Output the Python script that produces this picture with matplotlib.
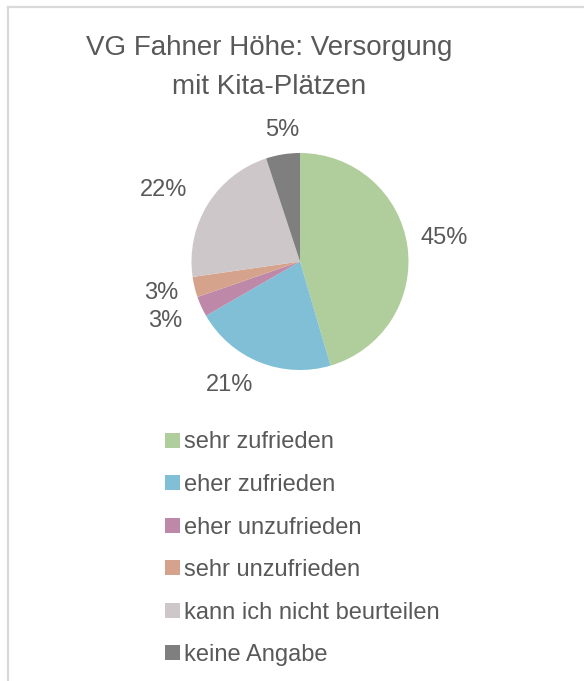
import matplotlib
matplotlib.use("Agg")
import matplotlib.pyplot as plt
from matplotlib.patches import Patch
from matplotlib.lines import Line2D
import numpy as np

plt.rcParams['font.family'] = ['Liberation Sans', 'DejaVu Sans']

# Survey answers (percent)
categories = ["sehr zufrieden", "eher zufrieden", "eher unzufrieden",
              "sehr unzufrieden", "kann ich nicht beurteilen", "keine Angabe"]
shares = [45, 21, 3, 3, 22, 5]
colors = ["#B0CE9C", "#80BFD5", "#BE88A8", "#D5A38C", "#CDC7C9", "#7F7F7F"]
title = "VG Fahner Höhe: Versorgung\nmit Kita-Plätzen"

# label placement: (angle offset from wedge middle in degrees, radial factor)
label_layout = [(1.0, 1.35), (-8.0, 1.31), (-0.8, 1.36), (-1.0, 1.31), (4.0, 1.42), (-1.5, 1.22)]

W, H = 584, 681
fig = plt.figure(figsize=(W / 100, H / 100), dpi=100)
text_color = "#595959"

# chart area border (top and left edges visible)
border = dict(color="#D9D9D9", linewidth=1.6, transform=fig.transFigure)
fig.lines.append(Line2D([7.5 / W, 1.01], [1 - 6.5 / H, 1 - 6.5 / H], **border))
fig.lines.append(Line2D([7.5 / W, 7.5 / W], [-0.01, 1 - 6.5 / H], **border))

fig.text(269 / W, 1 - 67.5 / H, title, ha="center", va="center", fontsize=20,
         color=text_color, linespacing=1.62)

cx, cy, r = 300, 261.5, 108.5
ax = fig.add_axes([(cx - r) / W, (H - cy - r) / H, 2 * r / W, 2 * r / H])
wedges, _ = ax.pie(shares, colors=colors, startangle=90, counterclock=False,
                   radius=1.0, wedgeprops=dict(linewidth=0))
ax.set_xlim(-1, 1)
ax.set_ylim(-1, 1)
ax.set_aspect("equal")
ax.axis("off")

for w, val, (da, rf) in zip(wedges, shares, label_layout):
    mid = np.deg2rad((w.theta1 + w.theta2) / 2 + da)
    ax.text(rf * np.cos(mid), rf * np.sin(mid), f"{val}%", ha="center", va="center",
            fontsize=17, color=text_color, clip_on=False)

handles = [Patch(facecolor=c, edgecolor="none") for c in colors]
fig.legend(handles, categories, loc="upper left",
           bbox_to_anchor=(156 / W, 1 - 422 / H), frameon=False,
           fontsize=17, labelcolor=text_color, handlelength=0.6, handleheight=0.6,
           handletextpad=0.2, labelspacing=0.87, borderaxespad=0)

fig.savefig("out.png", dpi=100)
